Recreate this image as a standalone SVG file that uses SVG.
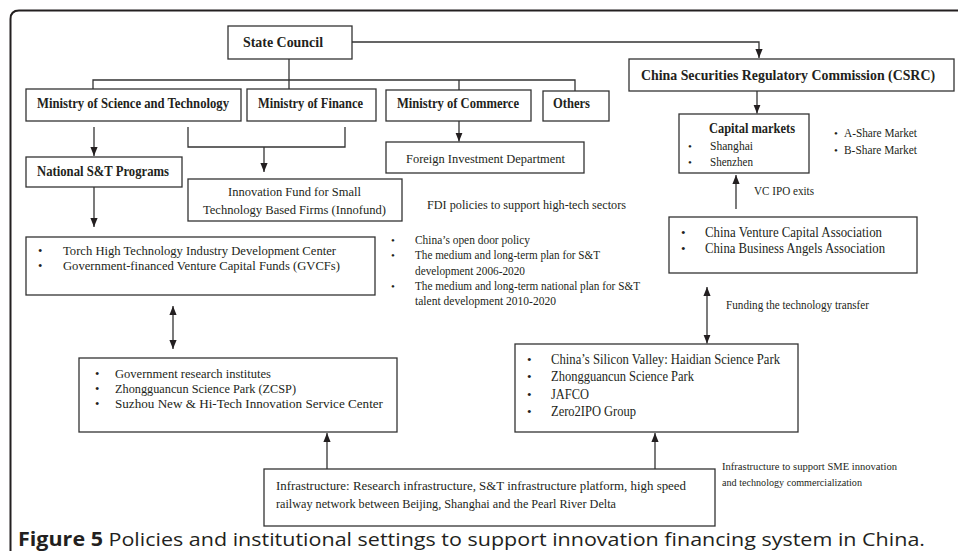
<svg xmlns="http://www.w3.org/2000/svg" width="958" height="551" viewBox="0 0 958 551">
<style>
.box{fill:#fff;stroke:#333;stroke-width:1.3}
.c{fill:none;stroke:#333;stroke-width:1.3}
.b{font-family:"Liberation Serif",serif;font-weight:bold;fill:#231f20}
.t{font-family:"Liberation Serif",serif;fill:#231f20}
.cap{font-family:"Open Sans","Liberation Sans",sans-serif;fill:#231f20;font-size:19px}
</style>
<defs>
<marker id="ah" viewBox="0 0 10 8" refX="10" refY="4" markerWidth="9" markerHeight="7.5" markerUnits="userSpaceOnUse" orient="auto-start-reverse">
<path d="M0,0 L10,4 L0,8 z" fill="#231f20"/>
</marker>
</defs>
<rect width="958" height="551" fill="#fff"/>
<path d="M10.5,551 V19 Q10.5,10.5 19,10.5 H958" fill="none" stroke="#231f20" stroke-width="2"/>

<g id="connectors">
<polyline class="c" points="352,42 759,42 759,58" marker-end="url(#ah)"/>
<line class="c" x1="289" y1="59" x2="289" y2="89"/>
<polyline class="c" points="93,89 93,80 575,80 575,91"/>
<line class="c" x1="459" y1="80" x2="459" y2="90"/>
<line class="c" x1="94" y1="127" x2="94" y2="156" marker-end="url(#ah)"/>
<polyline class="c" points="188,127 188,147 345,147 345,127"/>
<line class="c" x1="264" y1="147" x2="264" y2="172" marker-end="url(#ah)"/>
<line class="c" x1="459" y1="121" x2="459" y2="141.5" marker-end="url(#ah)"/>
<line class="c" x1="757" y1="91" x2="757" y2="113.5" marker-end="url(#ah)"/>
<line class="c" x1="94" y1="187" x2="94" y2="227" marker-end="url(#ah)"/>
<line class="c" x1="736" y1="209" x2="736" y2="175" marker-end="url(#ah)"/>
<line class="c" x1="173" y1="306" x2="173" y2="349" marker-start="url(#ah)" marker-end="url(#ah)"/>
<line class="c" x1="707" y1="287" x2="707" y2="343.5" marker-start="url(#ah)" marker-end="url(#ah)"/>
<line class="c" x1="327" y1="469" x2="327" y2="433" marker-end="url(#ah)"/>
<line class="c" x1="655" y1="469" x2="655" y2="433" marker-end="url(#ah)"/>
</g>

<g id="state-council">
<rect class="box" x="228" y="26" width="124" height="33"/>
<text class="b" x="243" y="47" font-size="15.5" textLength="80" lengthAdjust="spacingAndGlyphs">State Council</text>
</g>
<g id="csrc">
<rect class="box" x="629" y="59" width="325" height="32"/>
<text class="b" x="641" y="80" font-size="14" textLength="294" lengthAdjust="spacingAndGlyphs">China Securities Regulatory Commission (CSRC)</text>
</g>
<g id="most">
<rect class="box" x="26" y="89" width="215" height="32"/>
<text class="b" x="37" y="108" font-size="15" textLength="192" lengthAdjust="spacingAndGlyphs">Ministry of Science and Technology</text>
</g>
<g id="mof">
<rect class="box" x="247" y="89" width="129" height="32"/>
<text class="b" x="258" y="108" font-size="15" textLength="105" lengthAdjust="spacingAndGlyphs">Ministry of Finance</text>
</g>
<g id="moc">
<rect class="box" x="386" y="90" width="145" height="31"/>
<text class="b" x="397" y="108" font-size="15" textLength="122" lengthAdjust="spacingAndGlyphs">Ministry of Commerce</text>
</g>
<g id="others">
<rect class="box" x="543" y="91" width="66" height="30"/>
<text class="b" x="553" y="108" font-size="15" textLength="37" lengthAdjust="spacingAndGlyphs">Others</text>
</g>
<g id="national-st">
<rect class="box" x="26" y="157" width="156" height="30"/>
<text class="b" x="37" y="176" font-size="15" textLength="132" lengthAdjust="spacingAndGlyphs">National S&amp;T Programs</text>
</g>
<g id="innofund">
<rect class="box" x="188" y="179" width="214" height="42"/>
<text class="t" x="228" y="196" font-size="13.5" textLength="133" lengthAdjust="spacingAndGlyphs">Innovation Fund for Small</text>
<text class="t" x="203" y="213.5" font-size="13.5" textLength="183" lengthAdjust="spacingAndGlyphs">Technology Based Firms (Innofund)</text>
</g>
<g id="foreign-investment">
<rect class="box" x="386" y="142" width="198" height="31"/>
<text class="t" x="406" y="162.5" font-size="13.5" textLength="159" lengthAdjust="spacingAndGlyphs">Foreign Investment Department</text>
</g>
<g id="fdi-note">
<text class="t" x="427" y="208.5" font-size="13.5" textLength="199" lengthAdjust="spacingAndGlyphs">FDI policies to support high-tech sectors</text>
</g>
<g id="capital-markets">
<rect class="box" x="679" y="114" width="130" height="59"/>
<text class="b" x="709" y="133" font-size="15" textLength="86" lengthAdjust="spacingAndGlyphs">Capital markets</text>
<text class="t" x="688" y="149.5" font-size="11">•</text>
<text class="t" x="710" y="149.5" font-size="12" textLength="43" lengthAdjust="spacingAndGlyphs">Shanghai</text>
<text class="t" x="688" y="165.5" font-size="11">•</text>
<text class="t" x="710" y="165.5" font-size="12" textLength="43" lengthAdjust="spacingAndGlyphs">Shenzhen</text>
</g>
<g id="share-markets">
<text class="t" x="834" y="137" font-size="11">•</text>
<text class="t" x="844" y="137" font-size="11.5" textLength="73" lengthAdjust="spacingAndGlyphs">A-Share Market</text>
<text class="t" x="834" y="154" font-size="11">•</text>
<text class="t" x="844" y="154" font-size="11.5" textLength="73" lengthAdjust="spacingAndGlyphs">B-Share Market</text>
</g>
<g id="vc-ipo-label">
<text class="t" x="754" y="194.5" font-size="12" textLength="60" lengthAdjust="spacingAndGlyphs">VC IPO exits</text>
</g>
<g id="associations">
<rect class="box" x="669" y="217" width="248" height="56"/>
<text class="t" x="681" y="236.5" font-size="13">•</text>
<text class="t" x="705" y="236.5" font-size="14" textLength="177" lengthAdjust="spacingAndGlyphs">China Venture Capital Association</text>
<text class="t" x="681" y="253" font-size="13">•</text>
<text class="t" x="705" y="253" font-size="14" textLength="180" lengthAdjust="spacingAndGlyphs">China Business Angels Association</text>
</g>
<g id="torch">
<rect class="box" x="26" y="237" width="349" height="58"/>
<text class="t" x="38" y="255" font-size="12.5">•</text>
<text class="t" x="63" y="255" font-size="13.5" textLength="273" lengthAdjust="spacingAndGlyphs">Torch High Technology Industry Development Center</text>
<text class="t" x="38" y="270" font-size="12.5">•</text>
<text class="t" x="63" y="270" font-size="13.5" textLength="277" lengthAdjust="spacingAndGlyphs">Government-financed Venture Capital Funds (GVCFs)</text>
</g>
<g id="policies">
<text class="t" x="391" y="244" font-size="11">•</text>
<text class="t" x="415" y="244" font-size="11.5" textLength="115" lengthAdjust="spacingAndGlyphs">China’s open door policy</text>
<text class="t" x="391" y="259" font-size="11">•</text>
<text class="t" x="415" y="259" font-size="11.5" textLength="185" lengthAdjust="spacingAndGlyphs">The medium and long-term plan for S&amp;T</text>
<text class="t" x="415" y="274.5" font-size="11.5" textLength="110" lengthAdjust="spacingAndGlyphs">development 2006-2020</text>
<text class="t" x="391" y="290" font-size="11">•</text>
<text class="t" x="415" y="290" font-size="11.5" textLength="225" lengthAdjust="spacingAndGlyphs">The medium and long-term national plan for S&amp;T</text>
<text class="t" x="415" y="305" font-size="11.5" textLength="141" lengthAdjust="spacingAndGlyphs">talent development 2010-2020</text>
</g>
<g id="funding-label">
<text class="t" x="726" y="309" font-size="11.5" textLength="143" lengthAdjust="spacingAndGlyphs">Funding the technology transfer</text>
</g>
<g id="research-institutes">
<rect class="box" x="79" y="358" width="318" height="74"/>
<text class="t" x="95" y="377.5" font-size="12.5">•</text>
<text class="t" x="115" y="377.5" font-size="13.5" textLength="156" lengthAdjust="spacingAndGlyphs">Government research institutes</text>
<text class="t" x="95" y="393" font-size="12.5">•</text>
<text class="t" x="115" y="393" font-size="13.5" textLength="181" lengthAdjust="spacingAndGlyphs">Zhongguancun Science Park (ZCSP)</text>
<text class="t" x="95" y="408" font-size="12.5">•</text>
<text class="t" x="115" y="408" font-size="13.5" textLength="268" lengthAdjust="spacingAndGlyphs">Suzhou New &amp; Hi-Tech Innovation Service Center</text>
</g>
<g id="science-parks">
<rect class="box" x="515" y="344" width="283" height="88"/>
<text class="t" x="527" y="363.5" font-size="13">•</text>
<text class="t" x="551" y="363.5" font-size="14" textLength="229" lengthAdjust="spacingAndGlyphs">China’s Silicon Valley: Haidian Science Park</text>
<text class="t" x="527" y="381" font-size="13">•</text>
<text class="t" x="551" y="381" font-size="14" textLength="143" lengthAdjust="spacingAndGlyphs">Zhongguancun Science Park</text>
<text class="t" x="527" y="398.5" font-size="13">•</text>
<text class="t" x="551" y="398.5" font-size="14" textLength="38" lengthAdjust="spacingAndGlyphs">JAFCO</text>
<text class="t" x="527" y="416" font-size="13">•</text>
<text class="t" x="551" y="416" font-size="14" textLength="85" lengthAdjust="spacingAndGlyphs">Zero2IPO Group</text>
</g>
<g id="infrastructure">
<rect class="box" x="264" y="469" width="451" height="57"/>
<text class="t" x="276" y="489.5" font-size="13" textLength="410" lengthAdjust="spacingAndGlyphs">Infrastructure: Research infrastructure, S&amp;T infrastructure platform, high speed</text>
<text class="t" x="276" y="507.5" font-size="13" textLength="340" lengthAdjust="spacingAndGlyphs">railway network between Beijing, Shanghai and the Pearl River Delta</text>
</g>
<g id="infra-note">
<text class="t" x="722" y="469.5" font-size="10.5" textLength="175" lengthAdjust="spacingAndGlyphs">Infrastructure to support SME innovation</text>
<text class="t" x="722" y="485.5" font-size="10.5" textLength="140" lengthAdjust="spacingAndGlyphs">and technology commercialization</text>
</g>
<text class="cap" x="18" y="546" textLength="907" lengthAdjust="spacingAndGlyphs"><tspan font-weight="bold">Figure 5</tspan> Policies and institutional settings to support innovation financing system in China.</text>
</svg>
